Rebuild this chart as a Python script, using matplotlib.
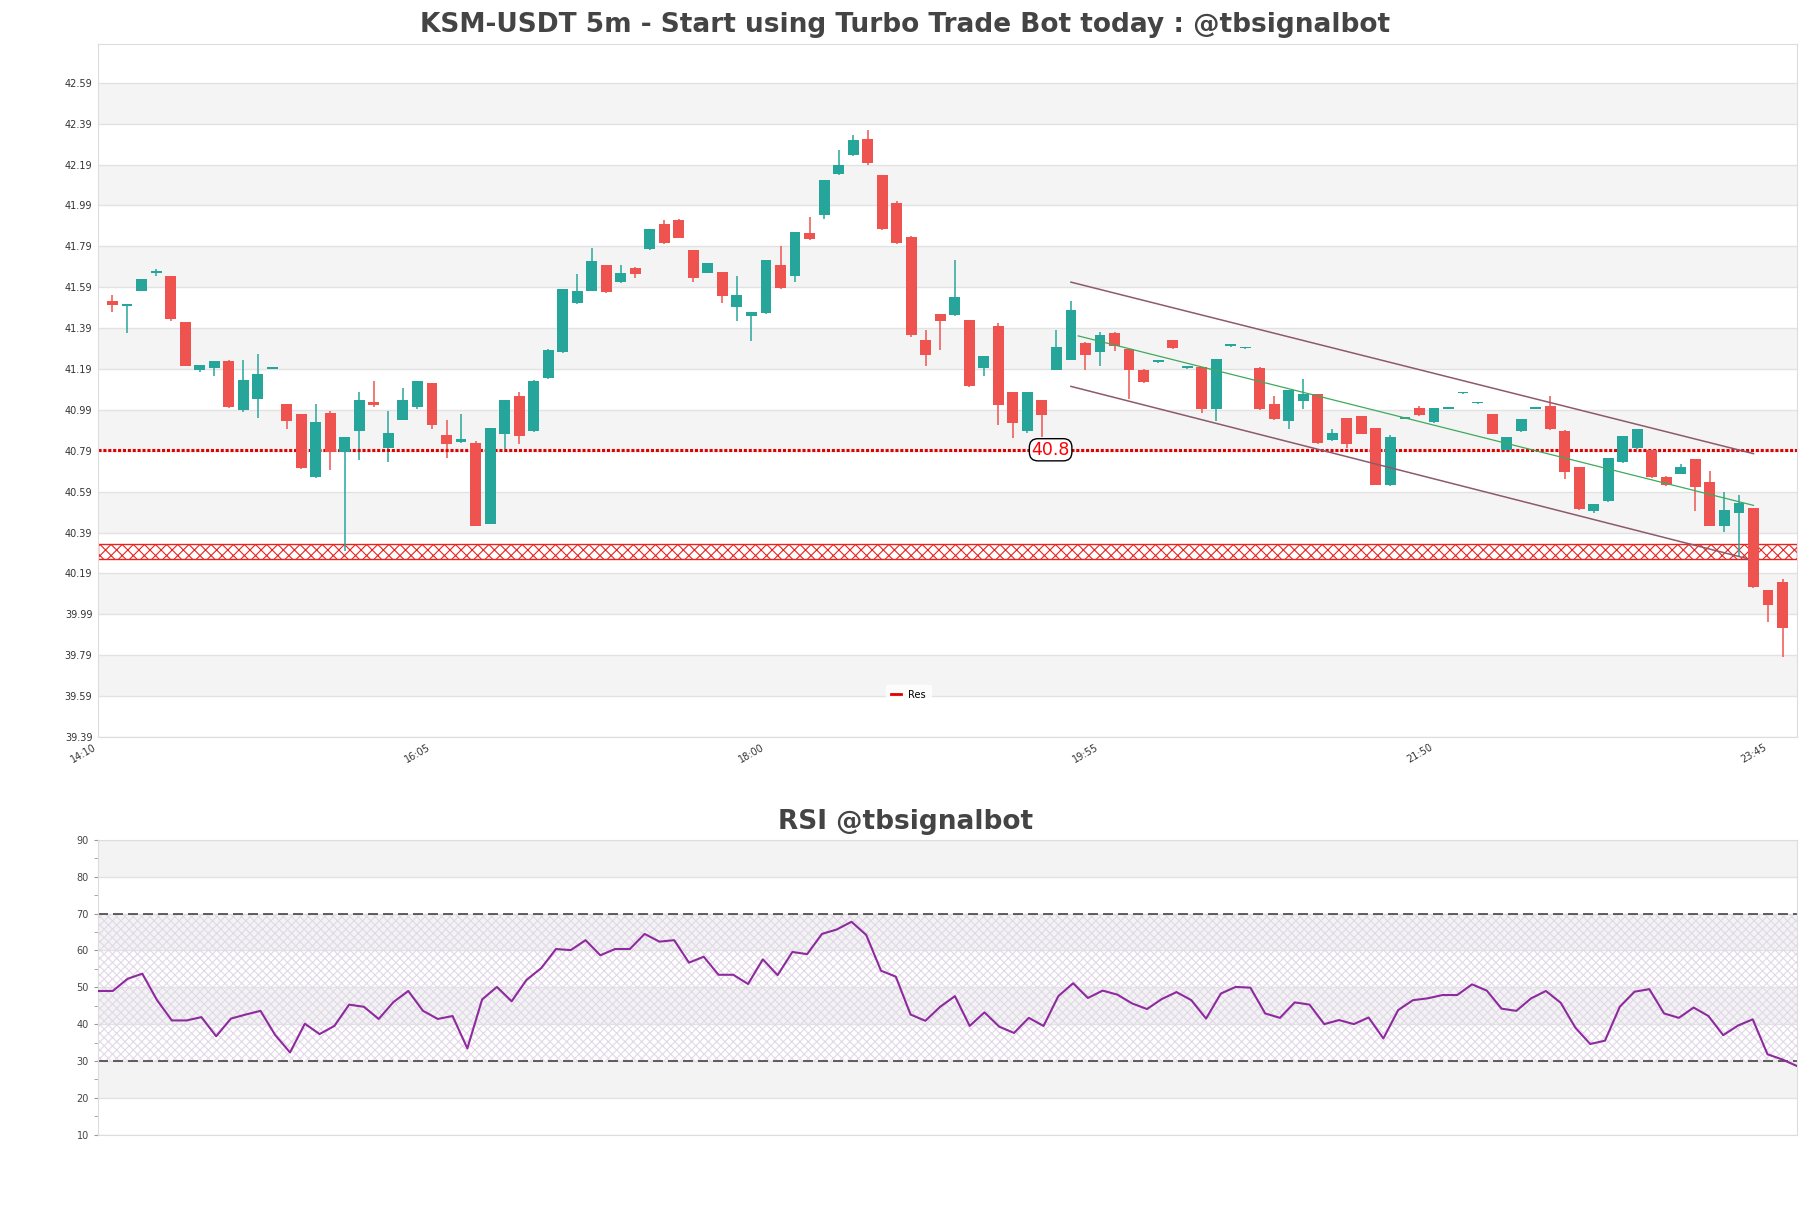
import numpy as np
import matplotlib
matplotlib.use('Agg')
import matplotlib.pyplot as plt

# candle data (5m), first candle 14:15
opens = [41.525, 41.497, 41.574, 41.66, 41.647, 41.418, 41.187, 41.194, 41.227, 40.99,
         41.041, 41.19, 41.017, 40.968, 40.661, 40.977, 40.784, 40.886, 41.027, 40.802,
         40.943, 41.005, 41.12, 40.865, 40.833, 40.826, 40.432, 40.872, 41.056, 40.886,
         41.145, 41.273, 41.513, 41.574, 41.698, 41.618, 41.685, 41.776, 41.897, 41.917,
         41.77, 41.662, 41.666, 41.493, 41.447, 41.463, 41.698, 41.644, 41.857, 41.941,
         42.145, 42.236, 42.317, 42.137, 42.001, 41.838, 41.33, 41.457, 41.455, 41.428,
         41.194, 41.398, 41.076, 40.885, 41.037, 41.187, 41.236, 41.318, 41.273, 41.368,
         41.289, 41.187, 41.224, 41.33, 41.196, 41.199, 40.992, 41.302, 41.292, 41.196,
         41.017, 40.935, 41.033, 41.066, 40.845, 40.948, 40.958, 40.90, 40.621, 40.945,
         40.997, 40.932, 40.994, 41.072, 41.023, 40.968, 40.793, 40.886, 40.994, 41.007,
         40.888, 40.709, 40.494, 40.546, 40.735, 40.803, 40.792, 40.663, 40.678, 40.748,
         40.635, 40.422, 40.485, 40.51, 40.107, 40.146]
highs = [41.55, 41.51, 41.628, 41.68, 41.647, 41.418, 41.208, 41.227, 41.232, 41.236,
         41.265, 41.198, 41.02, 40.97, 41.017, 40.987, 40.856, 41.076, 41.13, 40.987,
         41.095, 41.13, 41.12, 40.939, 40.968, 40.84, 40.90, 41.04, 41.076, 41.138,
         41.29, 41.579, 41.657, 41.78, 41.70, 41.698, 41.69, 41.876, 41.917, 41.925,
         41.77, 41.708, 41.666, 41.647, 41.47, 41.724, 41.79, 41.858, 41.936, 42.117,
         42.259, 42.337, 42.357, 42.14, 42.011, 41.84, 41.379, 41.46, 41.724, 41.43,
         41.256, 41.416, 41.076, 41.076, 41.04, 41.379, 41.525, 41.32, 41.37, 41.37,
         41.29, 41.19, 41.23, 41.33, 41.20, 41.20, 41.237, 41.306, 41.296, 41.20,
         41.056, 41.085, 41.141, 41.07, 40.898, 40.95, 40.96, 40.90, 40.865, 40.949,
         41.007, 40.997, 40.998, 41.076, 41.027, 40.97, 40.856, 40.947, 40.998, 41.056,
         40.89, 40.71, 40.528, 40.756, 40.864, 40.898, 40.795, 40.665, 40.727, 40.75,
         40.691, 40.588, 40.575, 40.51, 40.11, 40.165]
lows = [41.47, 41.366, 41.574, 41.647, 41.424, 41.204, 41.175, 41.155, 41.0, 40.98,
        40.95, 41.19, 40.895, 40.70, 40.655, 40.694, 40.30, 40.743, 41.005, 40.735,
        40.94, 40.992, 40.895, 40.754, 40.83, 40.42, 40.43, 40.80, 40.823, 40.88,
        41.14, 41.27, 41.51, 41.57, 41.56, 41.61, 41.635, 41.77, 41.80, 41.83,
        41.615, 41.66, 41.512, 41.426, 41.326, 41.46, 41.58, 41.615, 41.82, 41.923,
        42.14, 42.23, 42.19, 41.87, 41.80, 41.346, 41.204, 41.284, 41.45, 41.10,
        41.157, 40.918, 40.852, 40.875, 40.857, 41.187, 41.236, 41.187, 41.204, 41.276,
        41.045, 41.12, 41.22, 41.29, 41.19, 40.974, 40.935, 41.30, 41.29, 40.99,
        40.94, 40.896, 40.994, 40.821, 40.84, 40.805, 40.87, 40.621, 40.62, 40.944,
        40.96, 40.924, 40.993, 41.07, 41.02, 40.87, 40.79, 40.88, 40.993, 40.89,
        40.654, 40.50, 40.487, 40.54, 40.73, 40.80, 40.655, 40.62, 40.675, 40.495,
        40.42, 40.392, 40.27, 40.12, 39.952, 39.781]
closes = [41.502, 41.51, 41.628, 41.665, 41.433, 41.204, 41.208, 41.227, 41.005, 41.138,
          41.168, 41.198, 40.935, 40.705, 40.929, 40.784, 40.856, 41.037, 41.012, 40.875,
          41.037, 41.129, 40.916, 40.823, 40.846, 40.422, 40.90, 41.037, 40.862, 41.129,
          41.284, 41.579, 41.57, 41.716, 41.567, 41.66, 41.655, 41.876, 41.806, 41.832,
          41.635, 41.708, 41.546, 41.551, 41.47, 41.724, 41.586, 41.858, 41.827, 42.117,
          42.19, 42.308, 42.197, 41.876, 41.806, 41.354, 41.261, 41.424, 41.54, 41.106,
          41.256, 41.015, 40.925, 41.076, 40.967, 41.297, 41.477, 41.261, 41.358, 41.302,
          41.187, 41.126, 41.228, 41.294, 41.20, 40.992, 41.237, 41.306, 41.296, 40.992,
          40.945, 41.085, 41.069, 40.83, 40.875, 40.821, 40.872, 40.621, 40.856, 40.949,
          40.965, 40.997, 40.998, 41.076, 41.027, 40.872, 40.856, 40.947, 40.998, 40.896,
          40.686, 40.505, 40.528, 40.756, 40.864, 40.898, 40.661, 40.622, 40.709, 40.613,
          40.422, 40.499, 40.536, 40.123, 40.037, 39.923]

rsi = [49.0, 49.0, 52.3, 53.7, 46.5, 41.0, 41.0, 41.9, 36.7, 41.5,
       42.6, 43.6, 37.0, 32.3, 40.1, 37.3, 39.5, 45.3, 44.7, 41.4,
       46.0, 49.0, 43.6, 41.4, 42.2, 33.4, 46.7, 50.1, 46.2, 52.0,
       55.2, 60.4, 60.1, 62.8, 58.7, 60.4, 60.4, 64.5, 62.4, 62.8,
       56.7, 58.3, 53.4, 53.4, 50.9, 57.6, 53.3, 59.6, 59.0, 64.5,
       65.7, 67.8, 64.2, 54.5, 52.9, 42.6, 40.9, 44.7, 47.6, 39.5,
       43.2, 39.3, 37.6, 41.7, 39.5, 47.6, 51.1, 47.1, 49.1, 48.0,
       45.6, 44.1, 46.8, 48.7, 46.5, 41.5, 48.3, 50.1, 49.9, 42.9,
       41.7, 45.9, 45.3, 40.0, 41.1, 40.0, 41.8, 36.1, 43.8, 46.5,
       47.0, 47.9, 47.9, 50.8, 49.1, 44.2, 43.6, 47.0, 49.0, 45.8,
       39.0, 34.6, 35.5, 44.7, 48.8, 49.5, 42.9, 41.7, 44.5, 42.2,
       37.0, 39.6, 41.3, 31.8, 30.4, 28.6]

x_tick_pos = [-1, 22, 45, 68, 91, 114]
x_tick_labels = ['14:10', '16:05', '18:00', '19:55', '21:50', '23:45']

res_level = 40.795
zone_low, zone_high = 40.259, 40.332
chan_x = [66, 113]
chan_upper = [41.615, 40.776]
chan_lower_x = [66, 112.6]
chan_lower = [41.105, 40.262]
chan_mid_x = [66.5, 113]
chan_mid = [41.352, 40.523]

up_col = '#26a69a'
dn_col = '#ef5350'
txt_col = '#333333'

plt.rcParams['hatch.linewidth'] = 0.8

fig = plt.figure(figsize=(18.11, 12.08), dpi=100)
ax = fig.add_axes([0.0541, 0.3899, 0.9382, 0.5737])
ax2 = fig.add_axes([0.0541, 0.0608, 0.9382, 0.2438])

# --- price chart ---
ymin, ymax = 39.39, 42.78
yt = np.round(np.arange(39.39, 42.6, 0.2), 2)
for k in range(len(yt) - 1):
    if k % 2 == 1:
        ax.axhspan(yt[k], yt[k + 1], color='#f4f4f4', lw=0, zorder=0)
for v in yt:
    ax.axhline(v, color='#e2e2e2', lw=1, zorder=0.5)

idx = np.arange(len(opens))
o = np.array(opens)
c = np.array(closes)
cols = [up_col if cc >= oo else dn_col for oo, cc in zip(opens, closes)]
ax.vlines(idx, lows, highs, colors=cols, lw=1.1, zorder=2)
bottoms = np.minimum(o, c)
heights = np.maximum(np.abs(c - o), 0.008)
ax.bar(idx, heights, bottom=bottoms, width=0.75, color=cols, lw=0, zorder=3)

ax.axhspan(zone_low, zone_high, facecolor='white', edgecolor='#e8231f', hatch='xxx',
           lw=1.0, zorder=1)
ax.axhline(res_level, color='#e00000', ls=(0, (1, 0.6)), lw=2.2, label='Res', zorder=2.5)
ax.text(64.6, res_level, f'{res_level:.1f}', color='red', fontsize=12.5,
        ha='center', va='center', zorder=5,
        bbox=dict(boxstyle='round,pad=0.12,rounding_size=0.5', fc='white', ec='black', lw=1))

ax.plot(chan_x, chan_upper, color='#8d5a6c', lw=1.1, zorder=4)
ax.plot(chan_lower_x, chan_lower, color='#8d5a6c', lw=1.1, zorder=4)
ax.plot(chan_mid_x, chan_mid, color='#3daa5c', lw=0.9, zorder=4)

ax.set_xlim(-1, 116)
ax.set_ylim(ymin, ymax)
ax.set_yticks(yt)
ax.set_yticklabels([f'{v:.2f}' for v in yt])
ax.set_xticks(x_tick_pos)
ax.set_xticklabels(x_tick_labels, rotation=30, ha='right')
ax.tick_params(axis='both', length=0, labelsize=7, labelcolor=txt_col, pad=4)
for s in ax.spines.values():
    s.set_color('#dddddd')
fig.text(0.5, 0.979, 'KSM-USDT 5m - Start using Turbo Trade Bot today : @tbsignalbot',
         fontsize=19, fontweight='bold', color='#444444', ha='center', va='center')
leg = ax.legend(loc='lower center', bbox_to_anchor=(0.477, 0.04), fontsize=7,
                frameon=True, handlelength=1.0, borderpad=0.5)
leg.get_frame().set_facecolor('white')
leg.get_frame().set_edgecolor('white')
for h in leg.get_lines():
    h.set_linestyle('-')
    h.set_linewidth(2)

# --- RSI ---
for a, b in [(20, 30), (40, 50), (60, 70), (80, 90)]:
    ax2.axhspan(a, b, color='#f3f3f4', lw=0, zorder=0)
for v in range(10, 91, 10):
    ax2.axhline(v, color='#e2e2e2', lw=1, zorder=0.5)
ax2.axhspan(30, 70, facecolor='none', edgecolor='#e2d8e8', hatch='xxxx', lw=0, zorder=1)
ax2.axhline(30, color='#444444', ls=(0, (6, 3)), lw=1.2, zorder=2)
ax2.axhline(70, color='#444444', ls=(0, (6, 3)), lw=1.2, zorder=2)
ax2.plot(np.arange(len(rsi)), rsi, color='#8e2a9e', lw=1.5, zorder=3)
ax2.set_xlim(0, len(rsi) - 1)
ax2.set_ylim(10, 90)
ax2.set_yticks(range(10, 91, 10))
ax2.set_yticks(range(15, 90, 10), minor=True)
ax2.set_xticks([])
ax2.tick_params(axis='y', which='both', labelsize=7, labelcolor='#444444',
                color='#999999', length=3)
for s in ax2.spines.values():
    s.set_color('#dddddd')
fig.text(0.5, 0.3195, 'RSI @tbsignalbot', fontsize=19, fontweight='bold',
         color='#444444', ha='center', va='center')

fig.savefig('out.png', dpi=100)
